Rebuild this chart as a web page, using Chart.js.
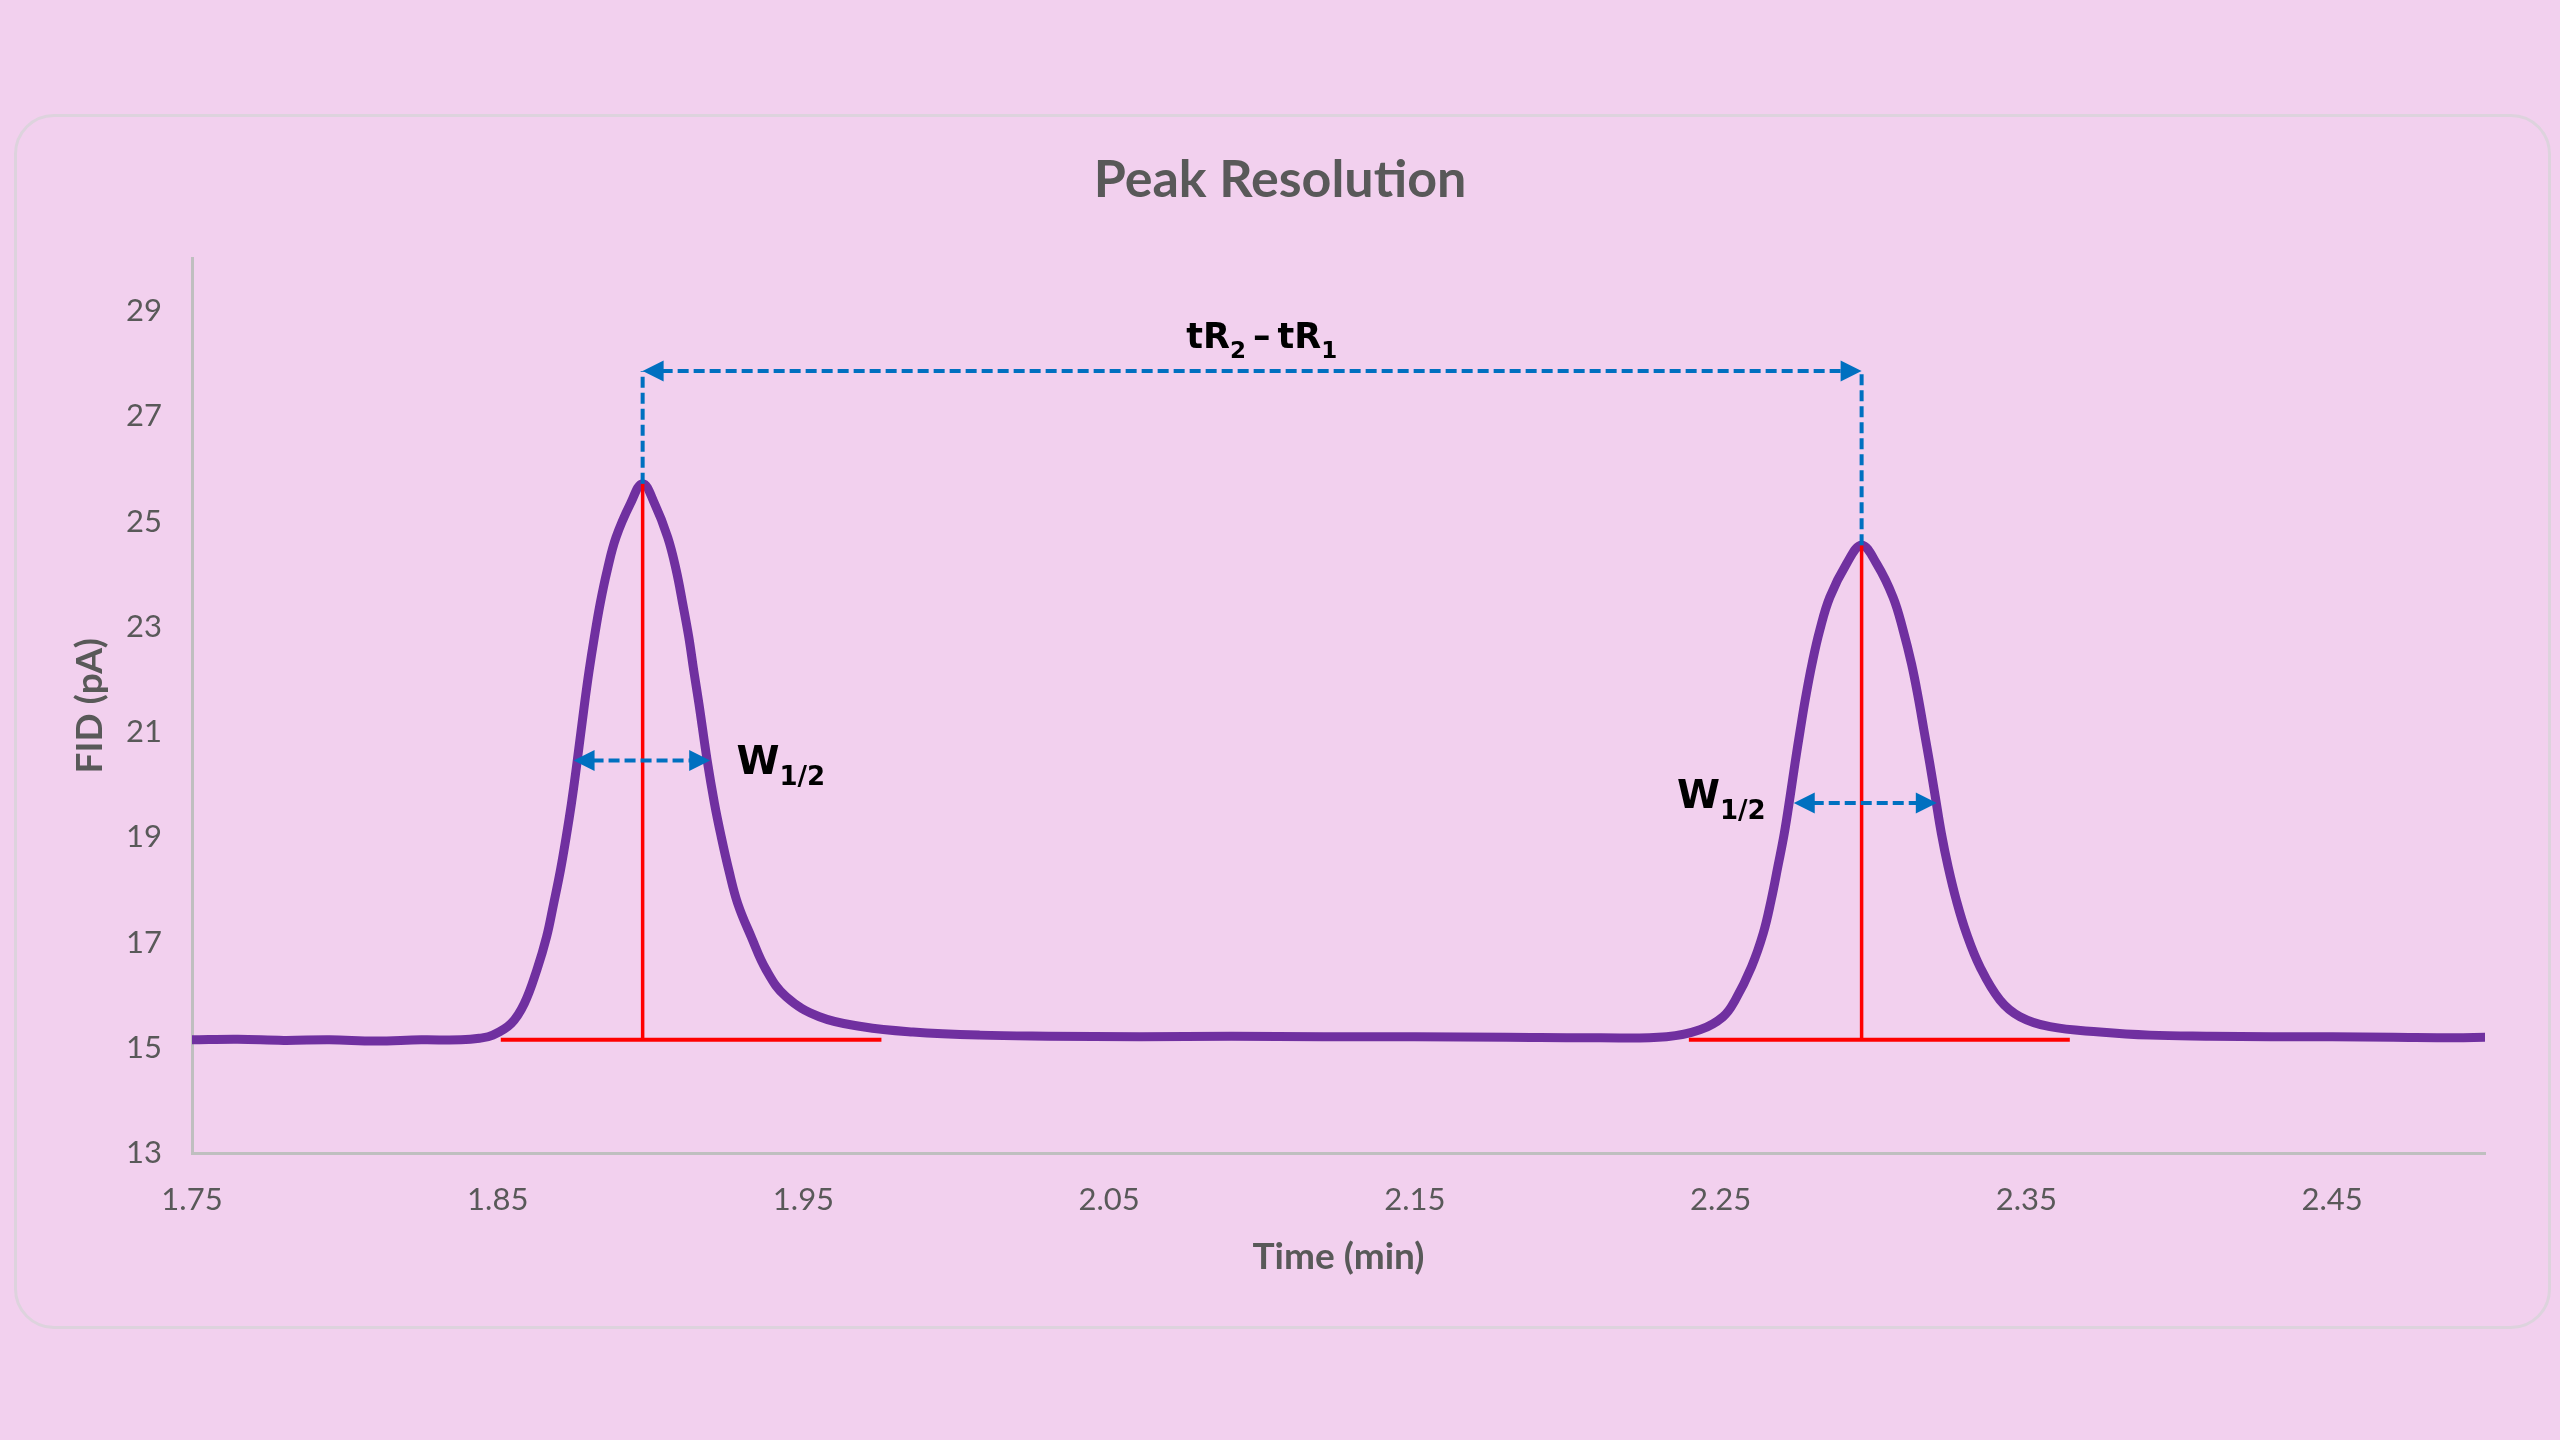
<!DOCTYPE html>
<html>
<head>
    <title>Peak Resolution</title>
    <script src="https://cdn.jsdelivr.net/npm/chart.js"></script>
    <style>
        html, body {
            margin: 0;
            padding: 0;
            background-color: #f2d0ee;
        }
        .card {
            position: absolute;
            left: 14px;
            top: 114px;
            width: 2531px;
            height: 1209px;
            border: 3px solid #ddd3dd;
            border-radius: 40px;
        }
        .chart-wrap {
            position: absolute;
            left: 0;
            top: 0;
            width: 2560px;
            height: 1440px;
        }
    </style>
</head>
<body>
    <div class="card"></div>
    <div class="chart-wrap">
        <canvas id="peakChart"></canvas>
    </div>

    <script>
        // FID trace (time in min, signal in pA)
        const timeMin = [
            1.750, 1.765, 1.780, 1.795, 1.810, 1.825, 1.838,
            1.8440, 1.8484, 1.8544, 1.8587, 1.8628, 1.8660, 1.8683, 1.8705, 1.8724, 1.8741,
            1.8756, 1.8784, 1.8799, 1.8816, 1.8835, 1.8858, 1.8887, 1.8934, 1.8974, 1.9013,
            1.9056, 1.9084, 1.9105, 1.9125, 1.9141, 1.9158, 1.9185, 1.9209, 1.9231, 1.9256,
            1.9285, 1.9329, 1.9378, 1.9443, 1.9552, 1.9694, 1.9858, 2.0076,
            2.030, 2.060, 2.090, 2.120, 2.150, 2.180, 2.210,
            2.2323, 2.2432, 2.2508, 2.2548, 2.2601, 2.2639, 2.2665, 2.2687, 2.2708, 2.2727,
            2.2743, 2.2760, 2.2778, 2.2799, 2.2824, 2.2857, 2.2912, 2.2961, 2.3010, 2.3064,
            2.3097, 2.3124, 2.3146, 2.3165, 2.3184, 2.3202, 2.3222, 2.3244, 2.3271, 2.3304,
            2.3348, 2.3413, 2.3479, 2.3577, 2.3740, 2.3904,
            2.410, 2.430, 2.450, 2.470, 2.490, 2.500
        ];
        const signalPA = [
            15.15, 15.16, 15.14, 15.15, 15.13, 15.15, 15.15,
            15.18, 15.24, 15.46, 15.84, 16.48, 17.11, 17.74, 18.37, 19.01, 19.64,
            20.27, 21.54, 22.17, 22.80, 23.44, 24.07, 24.70, 25.34, 25.72, 25.34,
            24.70, 24.07, 23.44, 22.80, 22.17, 21.54, 20.46, 19.64, 19.01, 18.37,
            17.74, 17.11, 16.48, 15.97, 15.59, 15.40, 15.30, 15.24,
            15.22, 15.21, 15.22, 15.21, 15.21, 15.20, 15.19,
            15.21, 15.34, 15.59, 15.91, 16.54, 17.17, 17.80, 18.44, 19.07, 19.77,
            20.40, 21.03, 21.66, 22.30, 22.93, 23.56, 24.20, 24.55, 24.20, 23.56,
            22.93, 22.30, 21.66, 21.03, 20.40, 19.77, 19.07, 18.44, 17.80, 17.17,
            16.54, 15.91, 15.59, 15.40, 15.30, 15.24,
            15.22, 15.21, 15.21, 15.20, 15.19, 15.20
        ];

        const xTicks = [1.75, 1.85, 1.95, 2.05, 2.15, 2.25, 2.35, 2.45];
        const yTicks = [13, 15, 17, 19, 21, 23, 25, 27, 29];

        // peak construction lines (data units)
        const peakTimes = [1.8974, 2.2961];
        const peakApex = [25.72, 24.55];
        const baseStart = [1.851, 2.2396];
        const baseEnd = [1.9755, 2.3642];
        const baseLevel = [15.15, 15.15];
        const halfLevel = [20.46, 19.65];
        const halfLeft = [1.8748, 2.2739];
        const halfRight = [1.9195, 2.3207];
        const bracketLevel = 27.86;

        // label anchors (data units): W1/2 left/baseline, tR centre/baseline
        const wLabelAt = [[1.9281, 20.20], [2.2357, 19.55]];
        const trLabelAt = [2.0999, 28.29];

        const trace = timeMin.map((t, i) => ({ x: t, y: signalPA[i] }));

        function seg(ctx, x1, y1, x2, y2) {
            ctx.beginPath();
            ctx.moveTo(x1, y1);
            ctx.lineTo(x2, y2);
            ctx.stroke();
        }

        function arrowHead(ctx, x, y, dir) {
            ctx.beginPath();
            ctx.moveTo(x, y);
            ctx.lineTo(x - dir * 21, y - 10.5);
            ctx.lineTo(x - dir * 21, y + 10.5);
            ctx.closePath();
            ctx.fill();
        }

        function drawParts(ctx, parts, x, y, align) {
            let total = 0;
            parts.forEach(p => { ctx.font = p.font; total += ctx.measureText(p.text).width; });
            let cx = align === 'center' ? x - total / 2 : x;
            parts.forEach(p => {
                ctx.font = p.font;
                ctx.fillText(p.text, cx, y + (p.dy || 0));
                cx += ctx.measureText(p.text).width;
            });
        }

        const annotate = {
            id: 'annotate',
            afterDatasetsDraw(chart) {
                const { ctx, scales: { x, y } } = chart;
                const px = v => x.getPixelForValue(v);
                const py = v => y.getPixelForValue(v);
                ctx.save();

                // red baselines and apex drops
                ctx.strokeStyle = '#ff0000';
                peakTimes.forEach((t, i) => {
                    ctx.lineWidth = 4;
                    seg(ctx, px(baseStart[i]), py(baseLevel[i]), px(baseEnd[i]), py(baseLevel[i]));
                    ctx.lineWidth = 3.5;
                    seg(ctx, px(t), py(baseLevel[i]), px(t), py(peakApex[i]));
                });

                // blue dashed arrows
                ctx.strokeStyle = '#0070c0';
                ctx.fillStyle = '#0070c0';
                ctx.setLineDash([11, 5]);
                peakTimes.forEach((t, i) => {
                    ctx.lineWidth = 4;
                    seg(ctx, px(t), py(peakApex[i]), px(t), py(bracketLevel));
                    const l = px(halfLeft[i]), r = px(halfRight[i]), h = py(halfLevel[i]);
                    seg(ctx, l + 19, h, r - 19, h);
                    arrowHead(ctx, l, h, -1);
                    arrowHead(ctx, r, h, 1);
                });
                const b = py(bracketLevel), bl = px(peakTimes[0]), br = px(peakTimes[1]);
                ctx.lineWidth = 4;
                seg(ctx, bl + 19, b, br - 19, b);
                ctx.setLineDash([]);
                arrowHead(ctx, bl, b, -1);
                arrowHead(ctx, br, b, 1);

                // labels
                ctx.fillStyle = '#000000';
                ctx.textBaseline = 'alphabetic';
                ctx.textAlign = 'left';
                const big = 'bold 39px "DejaVu Sans"';
                const sub = 'bold 26px "DejaVu Sans"';
                wLabelAt.forEach(([t, v]) => {
                    drawParts(ctx, [
                        { text: 'W', font: big },
                        { text: '1/2', font: sub, dy: 11 }
                    ], px(t), py(v), 'left');
                });
                const mainF = 'bold 35px "DejaVu Sans"';
                const subF = 'bold 23px "DejaVu Sans"';
                drawParts(ctx, [
                    { text: 'tR', font: mainF },
                    { text: '2', font: subF, dy: 10 },
                    { text: '\u2009\u2013\u2009', font: mainF },
                    { text: 'tR', font: mainF },
                    { text: '1', font: subF, dy: 10 }
                ], px(trLabelAt[0]), py(trLabelAt[1]), 'center');

                ctx.restore();
            }
        };

        const ctx = document.getElementById('peakChart').getContext('2d');
        new Chart(ctx, {
            type: 'line',
            data: {
                datasets: [{
                    label: 'FID',
                    data: trace,
                    borderColor: '#7030a0',
                    borderWidth: 9,
                    borderJoinStyle: 'round',
                    borderCapStyle: 'round',
                    pointRadius: 0,
                    tension: 0.4,
                    fill: false
                }]
            },
            options: {
                responsive: true,
                maintainAspectRatio: false,
                animation: false,
                layout: {
                    padding: { left: 75, right: 75, top: 100, bottom: 100 }
                },
                plugins: {
                    legend: { display: false },
                    tooltip: { enabled: false },
                    title: {
                        display: true,
                        text: 'Peak Resolution',
                        color: '#595959',
                        font: { family: 'Lato', size: 52, weight: 'bold' },
                        padding: { top: 49, bottom: 47 }
                    }
                },
                scales: {
                    x: {
                        type: 'linear',
                        min: 1.75,
                        max: 2.5,
                        afterBuildTicks: axis => { axis.ticks = xTicks.map(v => ({ value: v })); },
                        afterFit: axis => { axis.height = 187; },
                        grid: { color: 'transparent', drawTicks: false },
                        border: { color: '#bfbfbf', width: 3 },
                        ticks: {
                            padding: 28,
                            color: '#595959',
                            font: { family: 'Lato', size: 31 },
                            callback: v => v.toFixed(2)
                        },
                        title: {
                            display: true,
                            text: 'Time (min)',
                            color: '#595959',
                            font: { family: 'Lato', size: 37, weight: 'bold' },
                            padding: { top: 0, bottom: 61 }
                        }
                    },
                    y: {
                        min: 13,
                        max: 30,
                        afterBuildTicks: axis => { axis.ticks = yTicks.map(v => ({ value: v })); },
                        afterFit: axis => { axis.width = 117; },
                        grid: { color: 'transparent', drawTicks: false },
                        border: { color: '#bfbfbf', width: 3 },
                        ticks: {
                            padding: 30,
                            color: '#595959',
                            font: { family: 'Lato', size: 31 },
                            callback: v => String(v)
                        },
                        title: {
                            display: true,
                            text: 'FID (pA)',
                            color: '#595959',
                            font: { family: 'Lato', size: 37, weight: 'bold' },
                            padding: { top: -7, bottom: 0 }
                        }
                    }
                }
            },
            plugins: [annotate]
        });
    </script>
</body>
</html>
